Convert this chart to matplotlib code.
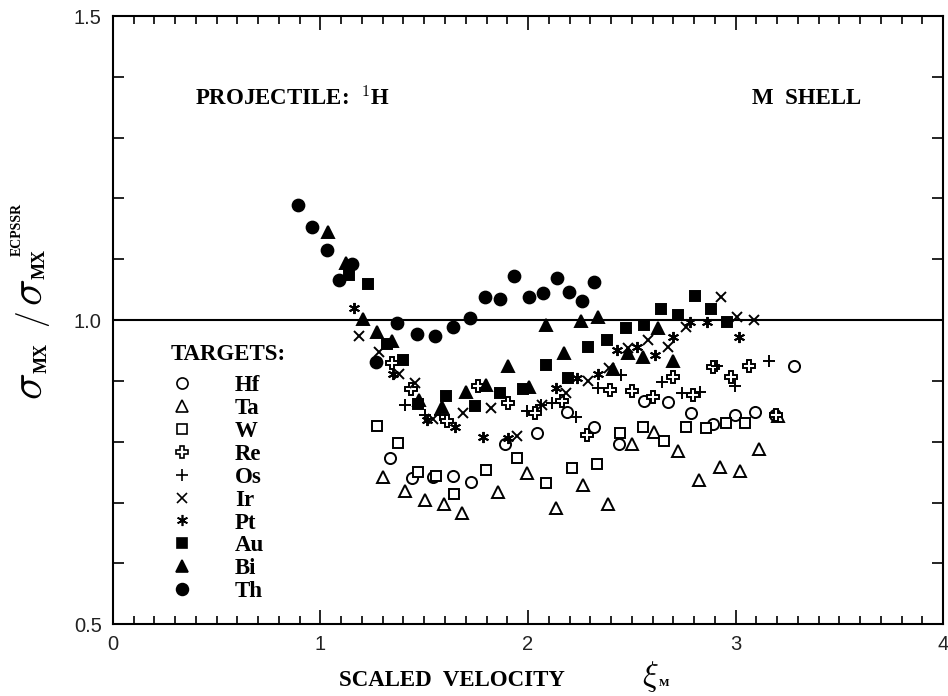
import matplotlib.pyplot as plt
from matplotlib.ticker import MultipleLocator
from matplotlib.lines import Line2D

plt.rcParams['mathtext.fontset'] = 'cm'

# scaled velocity xi_M and sigma_MX / sigma_MX(ECPSSR) for each target
hf_x = [1.335, 1.441, 1.542, 1.639, 1.725, 1.889, 2.043, 2.188, 2.318, 2.439,
        2.559, 2.675, 2.786, 2.892, 2.998, 3.094, 3.190, 3.282]
hf_y = [0.773, 0.740, 0.742, 0.743, 0.734, 0.796, 0.814, 0.849, 0.824, 0.796,
        0.867, 0.865, 0.847, 0.829, 0.844, 0.849, 0.844, 0.924]

ta_x = [1.301, 1.407, 1.504, 1.595, 1.682, 1.855, 1.995, 2.135, 2.265, 2.386,
        2.501, 2.607, 2.723, 2.824, 2.925, 3.022, 3.113, 3.205]
ta_y = [0.742, 0.719, 0.704, 0.697, 0.683, 0.717, 0.748, 0.692, 0.729, 0.697,
        0.796, 0.816, 0.785, 0.738, 0.758, 0.752, 0.789, 0.842]

w_x = [1.272, 1.373, 1.470, 1.557, 1.643, 1.798, 1.947, 2.087, 2.212, 2.333,
       2.443, 2.554, 2.655, 2.761, 2.858, 2.954, 3.046]
w_y = [0.826, 0.798, 0.750, 0.743, 0.715, 0.753, 0.773, 0.732, 0.757, 0.763,
       0.814, 0.824, 0.801, 0.824, 0.822, 0.831, 0.831]

re_x = [1.345, 1.436, 1.610, 1.759, 1.904, 2.034, 2.164, 2.284, 2.395, 2.501,
        2.602, 2.699, 2.795, 2.892, 2.978, 3.065, 3.195]
re_y = [0.929, 0.887, 0.834, 0.891, 0.863, 0.847, 0.867, 0.812, 0.885, 0.883,
        0.873, 0.906, 0.877, 0.923, 0.906, 0.924, 0.844]

os_x = [1.407, 1.504, 1.576, 1.995, 2.063, 2.116, 2.231, 2.337, 2.448, 2.646,
        2.742, 2.829, 2.911, 2.998, 3.161]
os_y = [0.860, 0.844, 0.844, 0.850, 0.860, 0.863, 0.840, 0.888, 0.910, 0.898,
        0.880, 0.882, 0.924, 0.891, 0.933]

ir_x = [1.186, 1.282, 1.378, 1.455, 1.542, 1.687, 1.822, 1.947, 2.067, 2.183,
        2.289, 2.390, 2.482, 2.578, 2.675, 2.761, 2.930, 3.007, 3.089]
ir_y = [0.974, 0.947, 0.911, 0.896, 0.837, 0.847, 0.855, 0.809, 0.860, 0.880,
        0.900, 0.921, 0.954, 0.967, 0.956, 0.988, 1.038, 1.005, 1.000]

pt_x = [1.161, 1.349, 1.513, 1.648, 1.783, 1.904, 2.135, 2.236, 2.337, 2.429,
        2.525, 2.612, 2.699, 2.781, 2.863, 3.017]
pt_y = [1.020, 0.911, 0.836, 0.824, 0.808, 0.806, 0.888, 0.905, 0.911, 0.951,
        0.956, 0.942, 0.972, 0.997, 0.997, 0.972]

au_x = [1.137, 1.229, 1.320, 1.398, 1.470, 1.605, 1.745, 1.865, 1.976, 2.087,
        2.193, 2.289, 2.381, 2.472, 2.559, 2.641, 2.723, 2.805, 2.882, 2.959]
au_y = [1.074, 1.059, 0.961, 0.934, 0.862, 0.875, 0.859, 0.880, 0.887, 0.926,
        0.905, 0.956, 0.967, 0.987, 0.992, 1.018, 1.008, 1.039, 1.018, 0.997]

bi_x = [1.036, 1.123, 1.205, 1.272, 1.345, 1.475, 1.586, 1.701, 1.798, 1.904,
        2.005, 2.087, 2.173, 2.255, 2.337, 2.410, 2.482, 2.554, 2.627, 2.699]
bi_y = [1.145, 1.094, 1.002, 0.980, 0.965, 0.868, 0.857, 0.882, 0.893, 0.924,
        0.890, 0.992, 0.946, 0.998, 1.005, 0.919, 0.946, 0.939, 0.987, 0.933]

th_x = [0.892, 0.959, 1.031, 1.089, 1.152, 1.267, 1.369, 1.465, 1.552, 1.639,
        1.720, 1.793, 1.865, 1.933, 2.005, 2.072, 2.140, 2.198, 2.260, 2.318]
th_y = [1.189, 1.153, 1.115, 1.066, 1.092, 0.931, 0.995, 0.977, 0.974, 0.988,
        1.003, 1.038, 1.035, 1.072, 1.038, 1.044, 1.069, 1.046, 1.031, 1.063]

asterisk = (6, 2, 0)
series = [
    ('Hf', hf_x, hf_y, dict(marker='o', mfc='white', ms=8)),
    ('Ta', ta_x, ta_y, dict(marker='^', mfc='white', ms=8)),
    ('W', w_x, w_y, dict(marker='s', mfc='white', ms=7.5)),
    ('Re', re_x, re_y, dict(marker='P', mfc='white', ms=8)),
    ('Os', os_x, os_y, dict(marker='+', ms=9)),
    ('Ir', ir_x, ir_y, dict(marker='x', ms=7)),
    ('Pt', pt_x, pt_y, dict(marker=asterisk, ms=8)),
    ('Au', au_x, au_y, dict(marker='s', mfc='black', ms=7.5)),
    ('Bi', bi_x, bi_y, dict(marker='^', mfc='black', ms=8.5)),
    ('Th', th_x, th_y, dict(marker='o', mfc='black', ms=8.5)),
]

fig = plt.figure(figsize=(9.48, 6.96), dpi=100)
ax = fig.add_axes([0.119, 0.103, 0.876, 0.874])

serif = 'Liberation Serif'
fs = 16.5
handles = []
for name, xs, ys, style in series:
    ax.plot(xs, ys, ls='none', color='black', mec='black', mew=1.4, **style)
    handles.append(Line2D([], [], ls='none', color='black', mec='black',
                          mew=1.2, label=name, **style))

ax.axhline(1.0, color='black', lw=1.5)

ax.set_xlim(0, 4)
ax.set_ylim(0.5, 1.5)
ax.xaxis.set_major_locator(MultipleLocator(1))
ax.xaxis.set_minor_locator(MultipleLocator(0.1))
ax.yaxis.set_major_locator(MultipleLocator(0.5))
ax.yaxis.set_minor_locator(MultipleLocator(0.1))
ax.xaxis.set_major_formatter(lambda v, p: f'{v:.0f}')
ax.yaxis.set_major_formatter(lambda v, p: f'{v:.1f}')
ax.tick_params(which='both', direction='in', top=True, right=True, width=1.2,
               labelsize=14.5, pad=8)
ax.tick_params(axis='x', which='major', length=10)
ax.tick_params(axis='x', which='minor', length=6)
ax.tick_params(axis='y', which='both', length=8)
for lab in ax.get_xticklabels() + ax.get_yticklabels():
    lab.set_fontfamily('Liberation Sans')
    lab.set_color('#222222')
for sp in ax.spines.values():
    sp.set_linewidth(1.5)

ax.text(0.395, 1.365, r'PROJECTILE:  $^{\mathbf{1}}$H', fontsize=fs,
        fontweight='bold', family=serif, va='center')
ax.text(3.08, 1.365, 'M  SHELL', fontsize=fs, fontweight='bold',
        family=serif, va='center')

leg = ax.legend(handles=handles, title='TARGETS:', loc='upper left',
                bbox_to_anchor=(0.07, 0.46), frameon=False,
                handlelength=1.0, handletextpad=1.8, labelspacing=0.08,
                borderaxespad=0, borderpad=0,
                prop={'family': serif, 'weight': 'bold', 'size': fs},
                title_fontproperties={'family': serif, 'weight': 'bold',
                                      'size': fs})
leg._legend_box.align = 'left'
leg._legend_box.sep = 7

# x axis title: words plus a larger xi symbol with small subscript
fig.text(452 / 948, 1 - 680 / 696, 'SCALED  VELOCITY', fontsize=fs,
         fontweight='bold', family=serif, ha='center', va='center')
fig.text(650 / 948, 1 - 676 / 696, r'$\xi$', fontsize=24,
         ha='center', va='center')
fig.text(664 / 948, 1 - 684 / 696, 'M', fontsize=8, fontweight='bold',
         family=serif, ha='center', va='center')

# y axis title built from pieces, rotated
ylab = [
    (r'$\sigma$', 29, 386, dict(fontsize=32)),
    ('MX', 42, 358, dict(fontsize=13, fontweight='bold', family=serif)),
    (r'$/$', 33, 320, dict(fontsize=24)),
    (r'$\sigma$', 29, 292, dict(fontsize=32)),
    ('MX', 40, 264, dict(fontsize=13, fontweight='bold', family=serif)),
    ('ECPSSR', 17, 229, dict(fontsize=10, fontweight='bold', family=serif)),
]
for txt, px, py, kw in ylab:
    fig.text(px / 948, 1 - py / 696, txt, rotation=90, ha='center',
             va='center', **kw)

fig.savefig('out.png', dpi=100)
